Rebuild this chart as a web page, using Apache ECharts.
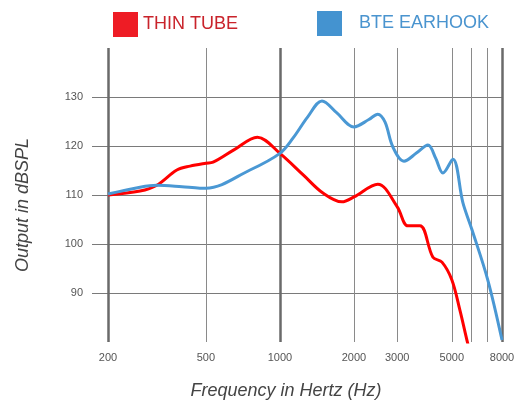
<!DOCTYPE html>
<html>
<head>
<meta charset="utf-8">
<script src="https://cdn.jsdelivr.net/npm/echarts@6/dist/echarts.min.js"></script>
<style>
  html, body { margin: 0; padding: 0; background: #fff; }
  #chart { width: 519px; height: 402px; }
</style>
</head>
<body>
<div id="chart"></div>
<script>
// frequency (Hz) / output (dBSPL)
var thinFreq = [200, 270, 316, 381, 431, 500, 535, 650, 810, 1000, 1250, 1496, 1788, 2000, 2500, 3000, 3316, 3710, 4190, 4560, 5000, 5394, 5760, 5950];
var thinOut  = [110.0, 110.8, 112.0, 115.1, 115.9, 116.5, 116.7, 119.2, 121.8, 118.5, 114.0, 110.4, 108.6, 109.6, 112.2, 107.6, 103.7, 103.7, 97.3, 96.3, 92.7, 86.5, 80.4, 77.5];

var bteFreq = [200, 270, 316, 400, 473, 500, 756, 1000, 1130, 1300, 1483, 1700, 2000, 2300, 2500, 2674, 2880, 3195, 3600, 4000, 4300, 4600, 5050, 5550, 6040, 7000, 8000];
var bteOut  = [110.2, 111.6, 112.0, 111.7, 111.4, 111.4, 115.1, 118.5, 121.6, 126.0, 129.2, 126.8, 123.9, 125.4, 126.5, 124.9, 119.8, 116.9, 118.6, 120.2, 117.5, 114.5, 117.3, 108.4, 102.9, 92.7, 80.4];

var freqLabels = [200, 500, 1000, 2000, 3000, 5000, 8000];
var freqLines = [200, 500, 1000, 2000, 3000, 5000, 6000, 7000, 8000];
var boldLines = [200, 1000, 8000];
var outTicks = [90, 100, 110, 120, 130];

function pairs(xs, ys) {
    var out = [];
    for (var i = 0; i < xs.length; i++) {
        out.push([xs[i], ys[i]]);
    }
    return out;
}

var vLines = freqLines.map(function(f) {
    var bold = boldLines.indexOf(f) >= 0;
    return {
        xAxis: f,
        lineStyle: { color: bold ? '#6a6a6a' : '#8a8a8a', width: bold ? 2.5 : 1, type: 'solid' }
    };
});

var myChart = echarts.init(document.getElementById('chart'));
var option = {
    animation: false,
    textStyle: { fontFamily: 'Liberation Sans' },
    grid: { left: 108, right: 17, top: 48, bottom: 60 },
    legend: [{
        left: 108, top: 7,
        itemWidth: 25, itemHeight: 25, itemGap: 0,
        icon: 'rect',
        data: [{ name: 'THIN TUBE', itemStyle: { color: '#ee1c25' } }],
        textStyle: { color: '#c9232b', fontSize: 18, padding: [0, 0, 0, 0] }
    }, {
        left: 312, top: 6,
        itemWidth: 25, itemHeight: 25, itemGap: 0,
        icon: 'rect',
        data: [{ name: 'BTE EARHOOK', itemStyle: { color: '#4493d0' } }],
        textStyle: { color: '#4a94cf', fontSize: 18, padding: [0, 0, 0, 12] }
    }],
    xAxis: {
        type: 'log',
        min: 200,
        max: 8000,
        axisLine: { show: false },
        axisTick: { show: false },
        splitLine: { show: false },
        axisLabel: {
            customValues: freqLabels,
            formatter: function(v) { return String(Math.round(v)); },
            color: '#555',
            fontSize: 11,
            margin: 10
        }
    },
    yAxis: {
        type: 'value',
        min: 80,
        max: 140,
        interval: 10,
        axisLine: { show: false },
        axisTick: {
            show: true,
            customValues: outTicks,
            length: 16,
            lineStyle: { color: '#7a7a7a', width: 1 }
        },
        axisLabel: {
            customValues: outTicks,
            color: '#555',
            fontSize: 11,
            margin: 25
        },
        splitLine: { show: true, lineStyle: { color: '#7a7a7a', width: 1 } }
    },
    graphic: [{
        type: 'text',
        x: 286, y: 391,
        style: {
            text: 'Frequency in Hertz (Hz)',
            fontFamily: 'Liberation Sans',
            fontStyle: 'italic',
            fontSize: 18,
            fill: '#444',
            textAlign: 'center',
            textVerticalAlign: 'middle'
        }
    }, {
        type: 'text',
        x: 23, y: 205,
        rotation: Math.PI / 2,
        style: {
            text: 'Output in dBSPL',
            fontFamily: 'Liberation Sans',
            fontStyle: 'italic',
            fontSize: 18,
            fill: '#444',
            textAlign: 'center',
            textVerticalAlign: 'middle'
        }
    }],
    series: [{
        name: 'THIN TUBE',
        type: 'line',
        data: pairs(thinFreq, thinOut),
        smooth: 0.35,
        showSymbol: false,
        z: 3,
        lineStyle: { color: '#ff0000', width: 3 },
        itemStyle: { color: '#ee1c25' },
        markLine: {
            silent: true,
            symbol: ['none', 'none'],
            label: { show: false },
            z: 1,
            data: vLines
        }
    }, {
        name: 'BTE EARHOOK',
        type: 'line',
        data: pairs(bteFreq, bteOut),
        smooth: 0.35,
        showSymbol: false,
        z: 4,
        lineStyle: { color: '#4a98d4', width: 3 },
        itemStyle: { color: '#4493d0' }
    }]
};
myChart.setOption(option);
</script>
</body>
</html>
